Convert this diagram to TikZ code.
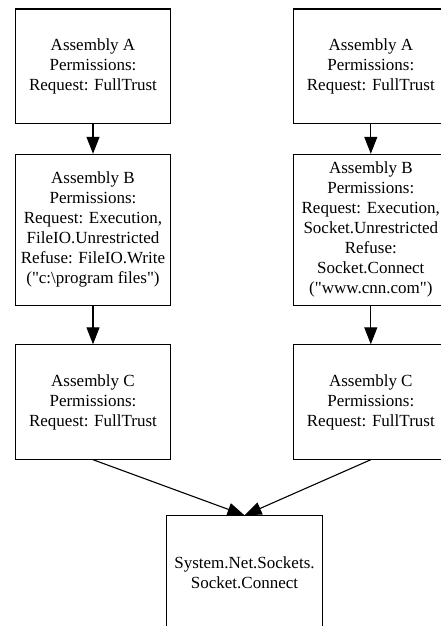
\documentclass[tikz,border=0pt]{standalone}
\usepackage{fontspec}
\setmainfont{Liberation Serif}[Ligatures=TeXOff]
\usetikzlibrary{arrows.meta}
\tikzset{
  box/.style={draw=black, line width=1.1pt, fill=white, inner sep=0pt,
    minimum width=155.5pt, align=center,
    font=\fontsize{17}{20}\selectfont},
  sbox/.style={box, minimum height=114.3pt},
  tbox/.style={box, minimum height=150.7pt},
  conn/.style={draw=black, line width=1.1pt, -{Triangle[length=17pt,width=13pt]}}
}
\begin{document}
\begin{tikzpicture}[x=1pt,y=-1pt]
\useasboundingbox (0,0) rectangle (441,626);
\clip (0,0) rectangle (441,626);
\fill[white] (0,0) rectangle (441,626);
\node[sbox] (a1) at (93,66.2) {Assembly A\\Permissions:\\Request: FullTrust};
\node[tbox] (b1) at (93,229.7) {Assembly B\\Permissions:\\Request: Execution,\\FileIO.Unrestricted\\Refuse: FileIO.Write\\("c:\textbackslash program files")};
\node[sbox] (c1) at (93,402) {Assembly C\\Permissions:\\Request: FullTrust};
\node[sbox] (a2) at (370.8,66.2) {Assembly A\\Permissions:\\Request: FullTrust};
\node[tbox] (b2) at (370.8,229.7) {Assembly B\\Permissions:\\Request: Execution,\\Socket.Unrestricted\\Refuse:\\Socket.Connect\\("www.cnn.com")};
\node[sbox] (c2) at (370.8,402) {Assembly C\\Permissions:\\Request: FullTrust};
\node[sbox] (d) at (244.5,573) {System.Net.Sockets.\\Socket.Connect};
\draw[conn] (a1.south) -- (b1.north);
\draw[conn] (b1.south) -- (c1.north);
\draw[conn] (a2.south) -- (b2.north);
\draw[conn] (b2.south) -- (c2.north);
\draw[conn] (c1.south) -- (d.north);
\draw[conn] (c2.south) -- (d.north);
\end{tikzpicture}
\end{document}
